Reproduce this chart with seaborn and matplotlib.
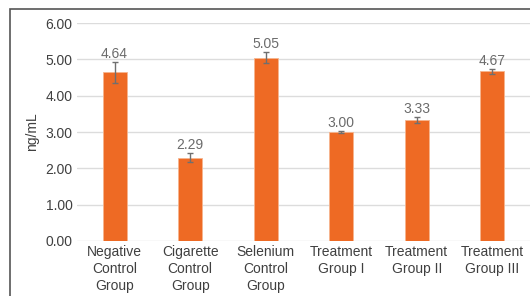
import matplotlib
matplotlib.use("Agg")
import matplotlib.pyplot as plt
import seaborn as sns
import pandas as pd
from matplotlib.patches import Rectangle

groups = ["Negative\nControl\nGroup", "Cigarette\nControl\nGroup", "Selenium\nControl\nGroup",
          "Treatment\nGroup I", "Treatment\nGroup II", "Treatment\nGroup III"]
means = [4.64, 2.29, 5.05, 3.00, 3.33, 4.67]
errors = [0.28, 0.12, 0.14, 0.03, 0.08, 0.06]

sns.set_theme(style="white")
plt.rcParams["font.family"] = ["Liberation Sans", "DejaVu Sans"]

df = pd.DataFrame({"group": groups, "mean": means, "err": errors})

fig = plt.figure(figsize=(5.30, 2.96), dpi=100)
ax = fig.add_axes([0.145, 0.186, 0.855, 0.736])

sns.barplot(data=df, x="group", y="mean", color="#EE6A24", saturation=1, width=0.32,
            edgecolor="#F6B58E", linewidth=0.6, ax=ax, zorder=3)
ax.errorbar(range(len(df)), df["mean"], yerr=df["err"], fmt="none",
            ecolor="#6f6f6f", elinewidth=1.0, capsize=2.5, capthick=1.0, zorder=4)

for i, (m, e) in enumerate(zip(df["mean"], df["err"])):
    ax.annotate(f"{m:.2f}", (i, m + e), xytext=(0, 1), textcoords="offset points",
                ha="center", va="bottom", fontsize=10, color="#6b6b6b")

ax.set_ylim(0, 6)
ax.set_yticks([0, 1, 2, 3, 4, 5, 6])
ax.set_yticklabels([f"{v:.2f}" for v in range(7)])
ax.set_xlim(-0.5, len(df) - 0.5)
ax.grid(axis="y", color="#dcdcdc", linewidth=1.0, zorder=0)
ax.set_axisbelow(True)
for s in ax.spines.values():
    s.set_visible(False)
ax.tick_params(axis="both", length=0, labelsize=10, colors="#404040", pad=3)
ax.set_xlabel("")
ax.set_ylabel("ng/mL", fontsize=10, color="#404040", labelpad=5)
for lbl in ax.get_xticklabels():
    lbl.set_linespacing(1.25)

# outer frame of the screenshot
fig.patches.append(Rectangle((10 / 530, -0.1), 1.2, 1 - 9 / 296 + 0.1,
                             transform=fig.transFigure, fill=False,
                             edgecolor="#555555", linewidth=1.2))

fig.savefig("out.png", dpi=100)
